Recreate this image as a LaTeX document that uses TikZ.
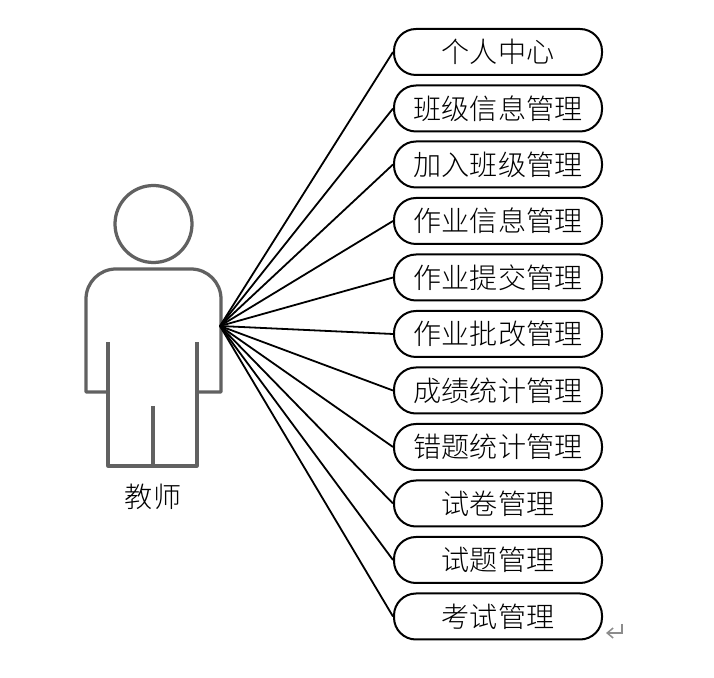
\documentclass[tikz,border=0pt]{standalone}
\usepackage{fontspec}
\newfontfamily\cjk[UprightFont=* Light]{Noto Sans CJK SC}
\usetikzlibrary{arrows.meta}
\tikzset{
    itembox/.style={draw, line width=.04cm, rounded corners=.44cm, minimum width=4.16cm, minimum height=.92cm, inner sep=0pt, font=\cjk\fontsize{16}{16}\selectfont},
    figure line/.style={draw=black!62, line width=.065cm},
    link/.style={line width=.036cm}
}

\begin{document}
\begin{tikzpicture}
    \useasboundingbox (0,0) rectangle (14.28,13.56);

    % person on the left
    \draw[figure line] (3.07,9.08) circle (.77);
    \draw[figure line, line join=round] (2.16,5.72) -- (1.72,5.72) -- (1.72,7.58) arc (180:90:.6) -- (3.82,8.18) arc (90:0:.6) -- (4.42,5.72) -- (3.94,5.72);
    \draw[figure line, line join=round] (2.16,6.72) -- (2.16,4.24) -- (3.94,4.24) -- (3.94,6.72);
    \draw[figure line] (3.06,5.44) -- (3.06,4.24);
    \node (teacher) at (3.06,3.62) {\cjk\fontsize{16}{16}\selectfont 教师};
    \coordinate (hand) at (4.4,7.04);

    % function boxes
    \node[itembox] (b1) at (9.96,12.52) {个人中心};
    \node[itembox] (b2) at (9.96,11.39) {班级信息管理};
    \node[itembox] (b3) at (9.96,10.27) {加入班级管理};
    \node[itembox] (b4) at (9.96,9.14) {作业信息管理};
    \node[itembox] (b5) at (9.96,8.01) {作业提交管理};
    \node[itembox] (b6) at (9.96,6.88) {作业批改管理};
    \node[itembox] (b7) at (9.96,5.75) {成绩统计管理};
    \node[itembox] (b8) at (9.96,4.62) {错题统计管理};
    \node[itembox] (b9) at (9.96,3.49) {试卷管理};
    \node[itembox] (b10) at (9.96,2.36) {试题管理};
    \node[itembox] (b11) at (9.96,1.23) {考试管理};

    \foreach \i in {1,...,11}
        \draw[link] (hand) -- (b\i.west);

    % return mark
    \draw[black!45, line width=.03cm, -{Straight Barb[length=.12cm,width=.2cm]}] (12.44,1.08) -- (12.44,.9) -- (12.12,.9);
\end{tikzpicture}
\end{document}
